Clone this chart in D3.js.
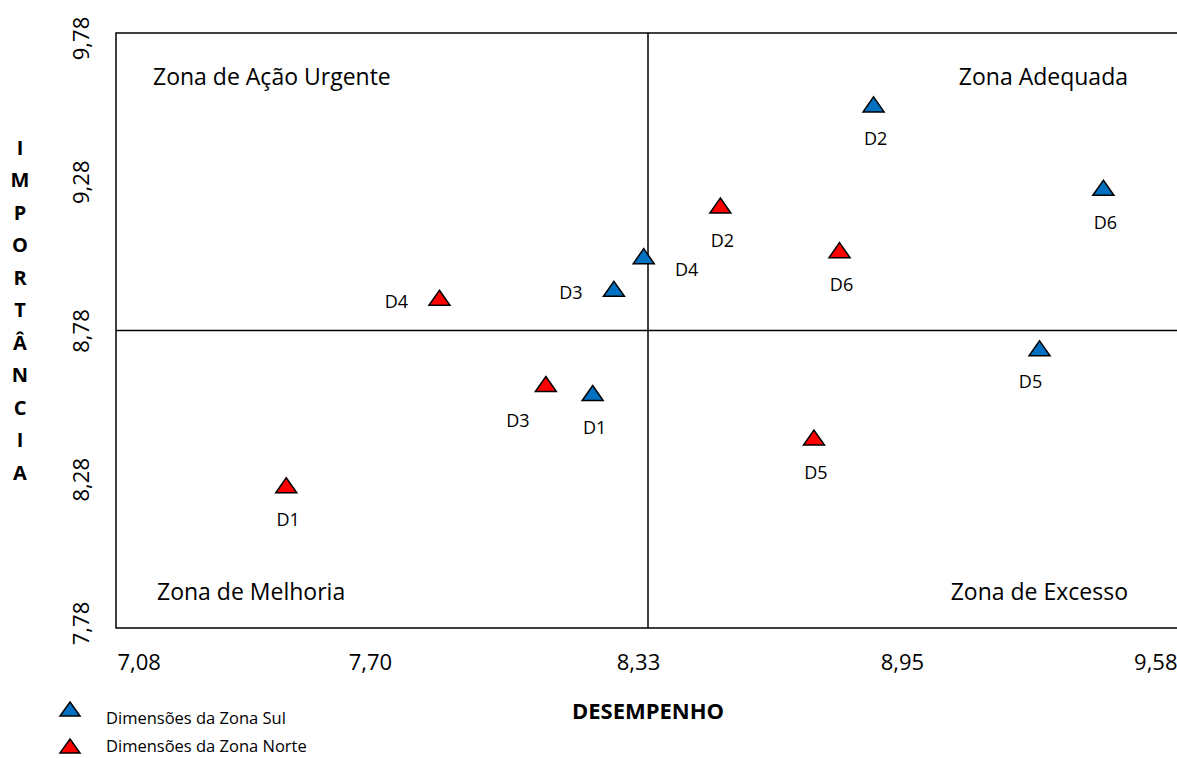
<!DOCTYPE html>
<html>
<head>
<meta charset="utf-8">
<script src="https://cdn.jsdelivr.net/npm/d3@7"></script>
<style>
    body { margin: 0; background: #fff; }
    svg { display: block; font-family: "Open Sans", sans-serif; }
</style>
</head>
<body>
<div id="chart"></div>
<script>
// dados
const dimensoes = ["D1", "D2", "D3", "D4", "D5", "D6"];
const sulDesempenho = [8.20, 8.86, 8.25, 8.32, 9.25, 9.40];
const sulImportancia = [8.57, 9.54, 8.92, 9.03, 8.72, 9.26];
const norteDesempenho = [7.48, 8.50, 8.09, 7.84, 8.72, 8.78];
const norteImportancia = [8.26, 9.20, 8.60, 8.89, 8.42, 9.05];

const xTicks = [7.08, 7.70, 8.33, 8.95, 9.58];
const yTicks = [7.78, 8.28, 8.78, 9.28, 9.78];
const xCorte = 8.33;
const yCorte = 8.78;

const zonas = ["Zona de Ação Urgente", "Zona Adequada", "Zona de Melhoria", "Zona de Excesso"];
const legendas = ["Dimensões da Zona Sul", "Dimensões da Zona Norte"];

const width = 1177;
const height = 758;
const pLeft = 116, pTop = 33, pBottom = 628, pRight = 1180;

const svg = d3.select("#chart").append("svg")
    .attr("width", width)
    .attr("height", height);

const x = d3.scaleLinear().domain([7.08, 9.58]).range([pLeft, pRight]);
const y = d3.scaleLinear().domain([7.78, 9.78]).range([pBottom, pTop]);

const fmt = d => d.toFixed(2).replace(".", ",");

// moldura da área do gráfico
svg.append("path")
    .attr("d", `M${pRight},${pTop}H${pLeft}V${pBottom}H${pRight}`)
    .attr("fill", "none")
    .attr("stroke", "#000")
    .attr("stroke-width", 1.5);

// linhas dos quadrantes
svg.append("line")
    .attr("x1", x(xCorte)).attr("x2", x(xCorte))
    .attr("y1", pTop).attr("y2", pBottom)
    .attr("stroke", "#000").attr("stroke-width", 1.5);
svg.append("line")
    .attr("x1", pLeft).attr("x2", pRight)
    .attr("y1", y(yCorte)).attr("y2", y(yCorte))
    .attr("stroke", "#000").attr("stroke-width", 1.5);

// eixo x
const xAxis = svg.append("g")
    .attr("transform", `translate(0,${pBottom})`)
    .call(d3.axisBottom(x).tickValues(xTicks).tickSize(0).tickPadding(0).tickFormat(fmt));
xAxis.select(".domain").remove();
xAxis.selectAll("text")
    .attr("y", 42)
    .attr("dy", 0)
    .attr("fill", "#000")
    .style("font-size", "22px")
    .style("font-family", "Open Sans")
    .attr("text-anchor", (d, i) => i === 0 ? "start" : (i === xTicks.length - 1 ? "end" : "middle"))
    .attr("x", (d, i) => i === 0 ? 1 : (i === xTicks.length - 1 ? width - x(d) : -10));

// eixo y (rótulos girados)
const yAxis = svg.append("g")
    .attr("transform", `translate(${pLeft},0)`)
    .call(d3.axisLeft(y).tickValues(yTicks).tickSize(0).tickFormat(fmt));
yAxis.select(".domain").remove();
yAxis.selectAll("text")
    .attr("x", 0).attr("dy", 0)
    .attr("fill", "#000")
    .style("font-size", "22px")
    .style("font-family", "Open Sans")
    .attr("text-anchor", "middle")
    .attr("dominant-baseline", "central")
    .attr("transform", (d, i) => {
        let off = 0;
        if (i === yTicks.length - 1) off = 5;
        if (i === 0) off = -5;
        return `translate(-36,${off}) rotate(-90)`;
    });

// títulos
svg.append("text")
    .attr("x", x(xCorte)).attr("y", 719)
    .attr("text-anchor", "middle")
    .style("font-weight", "bold")
    .style("font-size", "22px")
    .text("DESEMPENHO");

const titY = "IMPORTÂNCIA".split("");
svg.append("g").selectAll("text")
    .data(titY)
    .enter()
    .append("text")
    .attr("x", 20)
    .attr("y", (d, i) => 147 + i * 32.5)
    .attr("text-anchor", "middle")
    .attr("dominant-baseline", "central")
    .style("font-weight", "bold")
    .style("font-size", "20px")
    .text(d => d);

// nomes das zonas
const zonaPos = [
    { x: 153, y: 76, anchor: "start" },
    { x: 1128, y: 76, anchor: "end" },
    { x: 157, y: 591, anchor: "start" },
    { x: 1128, y: 591, anchor: "end" }
];
svg.append("g").selectAll("text")
    .data(zonas)
    .enter()
    .append("text")
    .attr("x", (d, i) => zonaPos[i].x)
    .attr("y", (d, i) => zonaPos[i].y)
    .attr("text-anchor", (d, i) => zonaPos[i].anchor)
    .attr("dominant-baseline", "central")
    .style("font-size", "23px")
    .text(d => d);

// triângulo
const tri = (w, h) => `M0,${-h / 2}L${w / 2},${h / 2}L${-w / 2},${h / 2}Z`;

const series = [
    { nome: "Sul", cor: "#0070C0", xs: sulDesempenho, ys: sulImportancia },
    { nome: "Norte", cor: "#FF0000", xs: norteDesempenho, ys: norteImportancia }
];

// onde fica o rótulo de cada ponto (padrão: embaixo)
const lado = { "Sul D4": "right", "Sul D3": "left", "Norte D4": "left", "Norte D3": "belowleft", "Sul D5": "belowleft2" };
const offsets = {
    below: [2, 34],
    left: [-43, 3],
    right: [43, 13],
    belowleft: [-28, 36],
    belowleft2: [-9, 33]
};

series.forEach((s) => {
    const pts = dimensoes.map((d, i) => ({ nome: d, x: s.xs[i], y: s.ys[i], key: s.nome + " " + d }));
    const g = svg.append("g");
    g.selectAll("path")
        .data(pts)
        .enter()
        .append("path")
        .attr("d", tri(21, 15))
        .attr("transform", d => `translate(${x(d.x)},${y(d.y)})`)
        .attr("fill", s.cor)
        .attr("stroke", "#000")
        .attr("stroke-width", 1.5);
    g.selectAll("text")
        .data(pts)
        .enter()
        .append("text")
        .attr("x", d => x(d.x) + offsets[lado[d.key] || "below"][0])
        .attr("y", d => y(d.y) + offsets[lado[d.key] || "below"][1])
        .attr("text-anchor", "middle")
        .attr("dominant-baseline", "central")
        .style("font-size", "18px")
        .text(d => d.nome);
});

// legenda
const leg = svg.append("g").selectAll("g")
    .data(legendas)
    .enter()
    .append("g")
    .attr("transform", (d, i) => `translate(70,${709 + i * 37})`);
leg.append("path")
    .attr("d", tri(20, 14))
    .attr("fill", (d, i) => series[i].cor)
    .attr("stroke", "#000")
    .attr("stroke-width", 1.5);
leg.append("text")
    .attr("x", 36)
    .attr("y", (d, i) => i === 0 ? 15 : 6)
    .style("font-size", "16.5px")
    .text(d => d);
</script>
</body>
</html>
